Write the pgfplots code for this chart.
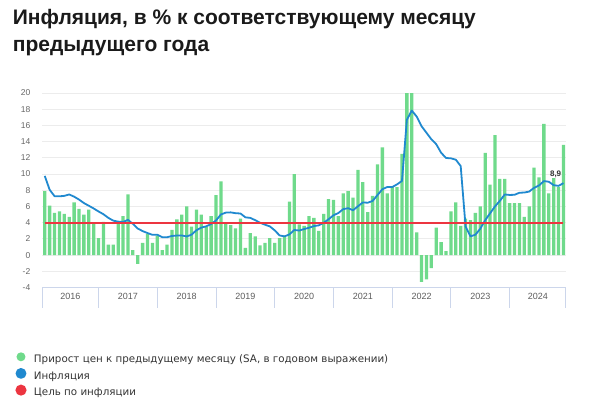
\documentclass[border=0pt]{standalone}
\usepackage{fontspec}
\setmainfont{Liberation Sans}
\newfontfamily\legfont{DejaVu Sans}
\usepackage{pgfplots}
\usepackage{pgfplotstable}
\pgfplotsset{compat=1.18}
\definecolor{cgreen}{HTML}{6FDA8B}
\definecolor{cblue}{HTML}{2089CF}
\definecolor{cred}{HTML}{EC3540}
\definecolor{cgrid}{HTML}{ECECEC}
\definecolor{caxis}{HTML}{CCD6EB}
\definecolor{ctick}{HTML}{666666}
\definecolor{ctitle}{HTML}{1A1A1A}
\definecolor{clegend}{HTML}{333333}

\pgfplotstableread{
i bar infl
0 7.9 9.77
1 6.1 8.06
2 5.2 7.27
3 5.4 7.25
4 5.1 7.31
5 4.7 7.48
6 6.5 7.21
7 5.7 6.85
8 5.0 6.42
9 5.6 6.09
10 4.0 5.75
11 2.1 5.38
12 4.1 5.04
13 1.3 4.59
14 1.3 4.25
15 4.1 4.13
16 4.8 4.09
17 7.5 4.35
18 0.6 3.86
19 -1.1 3.28
20 1.5 2.96
21 2.6 2.72
22 1.5 2.50
23 2.4 2.52
24 0.6 2.21
25 1.3 2.20
26 3.1 2.36
27 4.4 2.41
28 5.0 2.42
29 6.0 2.30
30 3.5 2.52
31 5.6 3.07
32 5.0 3.39
33 3.5 3.55
34 4.8 3.83
35 7.4 4.27
36 9.1 5.01
37 4.0 5.24
38 3.7 5.27
39 3.3 5.17
40 4.5 5.13
41 0.9 4.66
42 2.7 4.59
43 2.3 4.31
44 1.2 3.99
45 1.5 3.75
46 2.1 3.54
47 1.5 3.05
48 2.1 2.42
49 2.4 2.31
50 6.6 2.55
51 10.0 3.10
52 3.8 3.03
53 3.6 3.21
54 4.8 3.37
55 4.6 3.58
56 3.0 3.67
57 5.1 3.99
58 6.9 4.42
59 6.8 4.91
60 4.8 5.19
61 7.6 5.67
62 7.9 5.79
63 7.1 5.53
64 10.5 6.02
65 9.0 6.50
66 5.3 6.46
67 7.3 6.68
68 11.2 7.41
69 13.3 8.13
70 7.6 8.40
71 8.4 8.39
72 8.4 8.73
73 12.5 9.15
74 20 16.69
75 20 17.83
76 2.8 17.10
77 -3.3 15.90
78 -3.0 15.10
79 -1.6 14.30
80 3.4 13.68
81 1.6 12.63
82 0.5 11.98
83 5.4 11.94
84 6.5 11.77
85 3.6 10.99
86 4.5 3.51
87 4.3 2.31
88 5.2 2.51
89 6.0 3.25
90 12.6 4.30
91 8.7 5.15
92 14.8 6.00
93 9.4 6.69
94 9.4 7.48
95 6.4 7.42
96 6.4 7.44
97 6.4 7.69
98 4.7 7.72
99 6.0 7.84
100 10.8 8.30
101 9.6 8.59
102 16.2 9.13
103 7.6 9.05
104 9.5 8.63
105 8.4 8.54
106 13.6 8.88
}\datatable

\pgfplotstableread{
i target
0 4
106 4
}\targettable

\begin{document}
\begin{tikzpicture}
\useasboundingbox (0,0) rectangle (595pt,416pt);
\node[anchor=base west, inner sep=0pt, text=ctitle, font=\bfseries\fontsize{21}{25}\selectfont] at (12.7pt,391pt) {Инфляция, в \% к соответствующему месяцу};
\node[anchor=base west, inner sep=0pt, text=ctitle, font=\bfseries\fontsize{21}{25}\selectfont] at (12.7pt,364.3pt) {предыдущего года};
\begin{axis}[
  at={(42.3pt,128.5pt)}, anchor=south west,
  scale only axis, width=523.6pt, height=194.5pt,
  xmin=-0.5, xmax=106.5, ymin=-4, ymax=20,
  ytick={-4,-2,...,20},
  /pgf/number format/assume math mode=true,
  yticklabel style={font=\fontsize{8.5}{10}\selectfont, text=ctick, xshift=-8.5pt},
  xticklabel style={font=\fontsize{9}{10}\selectfont, text=ctick!90!black, yshift=-2pt},
  ymajorgrids, grid style={cgrid, line width=0.8pt},
  major tick length=0pt,
  axis x line*=bottom, axis y line*=left,
  x axis line style={caxis, line width=1pt, -},
  y axis line style={draw=none},
  xtick={5.25,17,29,41,53,65,77,89,100.75},
  xticklabels={2016,2017,2018,2019,2020,2021,2022,2023,2024},
  extra x ticks={-0.5,11,23,35,47,59,71,83,95,106.5},
  extra x tick labels={},
  extra x tick style={major tick length=20pt, tick align=outside, tick style={caxis, line width=1pt}},
  clip=false,
  legend style={at={(axis description cs:-0.0512,-0.3332)}, anchor=north west,
    draw=none, fill=none, inner sep=0pt, outer sep=0pt,
    font=\legfont\fontsize{10.3}{12}\selectfont, text=clegend,
    row sep=3.4pt, column sep=7.5pt,
    nodes={inner sep=0pt, text height=8pt, text depth=2pt},
    cells={anchor=west}},
]
\addplot[ybar, bar width=3.3pt, fill=cgreen, draw=none,
  legend image code/.code={\fill[cgreen] (0pt,2.8pt) circle (4.5pt);}]
  table[x=i, y=bar]{\datatable};
\addlegendentry{Прирост цен к предыдущему месяцу (SA, в годовом выражении)}
\addplot[cblue, line width=1.8pt, line join=round,
  legend image code/.code={\fill[cblue] (0pt,2.8pt) circle (4.5pt);}]
  table[x=i, y=infl]{\datatable};
\addlegendentry{Инфляция}
\addplot[cred, line width=2pt,
  legend image code/.code={\fill[cred] (0pt,2.8pt) circle (4.5pt);}]
  table[x=i, y=target]{\targettable};
\addlegendentry{Цель по инфляции}
\node[font=\bfseries\fontsize{8}{9}\selectfont, text=black!80, inner sep=1pt] at (axis cs:104.4,10.0) {8,9};
\end{axis}
\end{tikzpicture}
\end{document}
